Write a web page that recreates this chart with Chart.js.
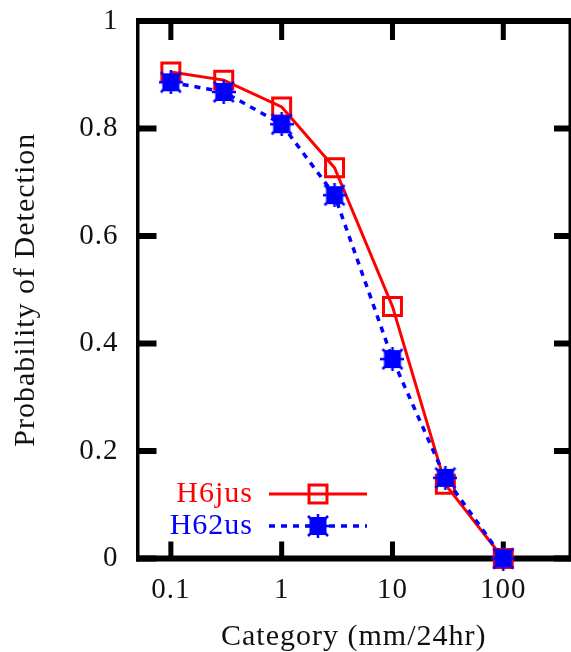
<!DOCTYPE html>
<html>
<head>
<meta charset="utf-8">
<script src="https://cdn.jsdelivr.net/npm/chart.js@4.4.1/dist/chart.umd.min.js"></script>
<style>
  html, body { margin: 0; padding: 0; background: #fff; }
  #wrap { position: relative; width: 571px; height: 652px; }
</style>
</head>
<body>
<div id="wrap"><canvas id="c"></canvas></div>
<script>
// Rain-rate categories (mm/24hr) and probability of detection per product
const categories = [0.1, 0.3, 1, 3, 10, 30, 100];
const h6jus = [0.905, 0.89, 0.84, 0.727, 0.469, 0.138, 0];
const h62us = [0.886, 0.868, 0.808, 0.676, 0.371, 0.15, 0];
const seriesNames = ['H6jus', 'H62us'];
const xTickValues = [0.1, 1, 10, 100];
const xTickLabels = ['0.1', '1', '10', '100'];
const yTickLabels = ['0', '0.2', '0.4', '0.6', '0.8', '1'];

const FONT = "'Liberation Serif', 'Times New Roman', serif";
const RED = '#ff0000';
const BLUE = '#0000ff';

// filled square with asterisk arms, used as the H62us marker
function starSquare(color) {
  const c = document.createElement('canvas');
  c.width = 24; c.height = 24;
  const g = c.getContext('2d');
  g.fillStyle = color;
  g.fillRect(3.5, 3, 17, 18);
  g.strokeStyle = color;
  g.lineWidth = 2.5;
  g.beginPath();
  g.moveTo(2, 2); g.lineTo(22, 22);
  g.moveTo(22, 2); g.lineTo(2, 22);
  g.moveTo(12, 0); g.lineTo(12, 24);
  g.moveTo(0, 12); g.lineTo(24, 12);
  g.stroke();
  return c;
}
const blueMarker = starSquare(BLUE);

// no extra room for tick labels that overhang the plot edges
function noOverhang(s) {
  s.paddingLeft = 0; s.paddingRight = 0; s.paddingTop = 0; s.paddingBottom = 0;
}

// gnuplot-like frame with inward ticks on all four sides
const framePlugin = {
  id: 'frame',
  beforeDatasetsDraw(chart) {
    const ctx = chart.ctx;
    const { left, right, top, bottom } = chart.chartArea;
    const xs = chart.scales.x, ys = chart.scales.y;
    ctx.save();
    ctx.fillStyle = '#000';
    ctx.fillRect(left - 1.5, top - 3, right - left + 3, 6);
    ctx.fillRect(left - 1.5, bottom - 3, right - left + 3, 6);
    ctx.fillRect(left - 1.5, top - 3, 3.5, bottom - top + 6);
    ctx.fillRect(right - 1.5, top - 3, 3, bottom - top + 6);
    ys.ticks.forEach(t => {
      const py = ys.getPixelForValue(t.value);
      ctx.fillRect(left, py - 3, 19, 6);
      ctx.fillRect(right - 16, py - 3, 16, 6);
    });
    xs.ticks.forEach(t => {
      const px = xs.getPixelForValue(t.value);
      ctx.fillRect(px - 2.5, bottom - 17, 5, 17);
      ctx.fillRect(px - 2.5, top, 5, 19);
    });
    ctx.restore();
  }
};

// key drawn inside the plot: label, then a line sample with its marker
const keyPlugin = {
  id: 'key',
  afterDatasetsDraw(chart, args, opts) {
    const ctx = chart.ctx;
    ctx.save();
    chart.data.datasets.forEach((ds, i) => {
      const y = opts.rows[i];
      ctx.font = '30px ' + FONT;
      ctx.textAlign = 'right';
      ctx.textBaseline = 'middle';
      ctx.fillStyle = ds.borderColor;
      ctx.fillText(ds.label, opts.textRight, y);
      ctx.strokeStyle = ds.borderColor;
      ctx.lineWidth = ds.borderWidth;
      ctx.setLineDash(ds.borderDash || []);
      ctx.beginPath();
      ctx.moveTo(opts.lineStart, y);
      ctx.lineTo(opts.lineEnd, y);
      ctx.stroke();
      ctx.setLineDash([]);
      const mx = (opts.lineStart + opts.lineEnd) / 2;
      if (ds.pointStyle instanceof HTMLCanvasElement) {
        ctx.drawImage(ds.pointStyle, mx - ds.pointStyle.width / 2, y - ds.pointStyle.height / 2);
      } else {
        const s = ds.pointRadius * Math.SQRT1_2;
        ctx.lineWidth = ds.pointBorderWidth;
        ctx.strokeRect(mx - s, y - s, 2 * s, 2 * s);
      }
    });
    ctx.restore();
  }
};

const spacingPlugin = {
  id: 'spacing',
  beforeDraw(chart) { chart.ctx.letterSpacing = '1px'; }
};

new Chart(document.getElementById('c'), {
  type: 'line',
  data: {
    datasets: [
      {
        label: seriesNames[0],
        data: categories.map((x, i) => ({ x, y: h6jus[i] })),
        borderColor: RED,
        borderWidth: 3,
        pointStyle: 'rect',
        pointRadius: 12.7,
        pointBorderWidth: 3,
        pointBorderColor: RED,
        pointBackgroundColor: 'rgba(0,0,0,0)',
        tension: 0,
        clip: false,
        order: 1
      },
      {
        label: seriesNames[1],
        data: categories.map((x, i) => ({ x, y: h62us[i] })),
        borderColor: BLUE,
        borderWidth: 3.5,
        borderDash: [6, 6],
        pointStyle: blueMarker,
        pointRadius: 12,
        tension: 0,
        clip: false,
        order: 0
      }
    ]
  },
  options: {
    responsive: true,
    maintainAspectRatio: false,
    animation: false,
    devicePixelRatio: 1,
    layout: { autoPadding: false, padding: { top: 21, right: 1, left: 0, bottom: 0 } },
    plugins: {
      legend: { display: false },
      tooltip: { enabled: false },
      key: { rows: [494, 526], textRight: 253, lineStart: 269, lineEnd: 367 }
    },
    scales: {
      x: {
        type: 'logarithmic',
        position: 'bottom',
        min: 0.05,
        max: 400,
        afterBuildTicks: s => { s.ticks = xTickValues.map(v => ({ value: v })); },
        afterFit: s => { s.height = 93.5; noOverhang(s); },
        grid: { display: false, drawTicks: false },
        border: { display: false },
        ticks: {
          autoSkip: false, maxRotation: 0, minRotation: 0, padding: 14,
          color: '#111', font: { family: FONT, size: 29 },
          callback: (v, i) => xTickLabels[i]
        },
        title: {
          display: true, text: 'Category (mm/24hr)', color: '#111',
          font: { family: FONT, size: 30, lineHeight: 1 },
          padding: { top: 0, bottom: 0 }
        }
      },
      y: {
        type: 'linear',
        min: 0,
        max: 1,
        afterFit: s => { s.width = 137.5; noOverhang(s); },
        grid: { display: false, drawTicks: false },
        border: { display: false },
        ticks: {
          stepSize: 0.2, padding: 19,
          color: '#111', font: { family: FONT, size: 29 },
          callback: (v, i) => yTickLabels[i]
        },
        title: {
          display: true, text: 'Probability of Detection', color: '#111',
          font: { family: FONT, size: 30, lineHeight: 1 },
          padding: { top: 11, bottom: 0 }
        }
      }
    }
  },
  plugins: [spacingPlugin, framePlugin, keyPlugin]
});
</script>
</body>
</html>
